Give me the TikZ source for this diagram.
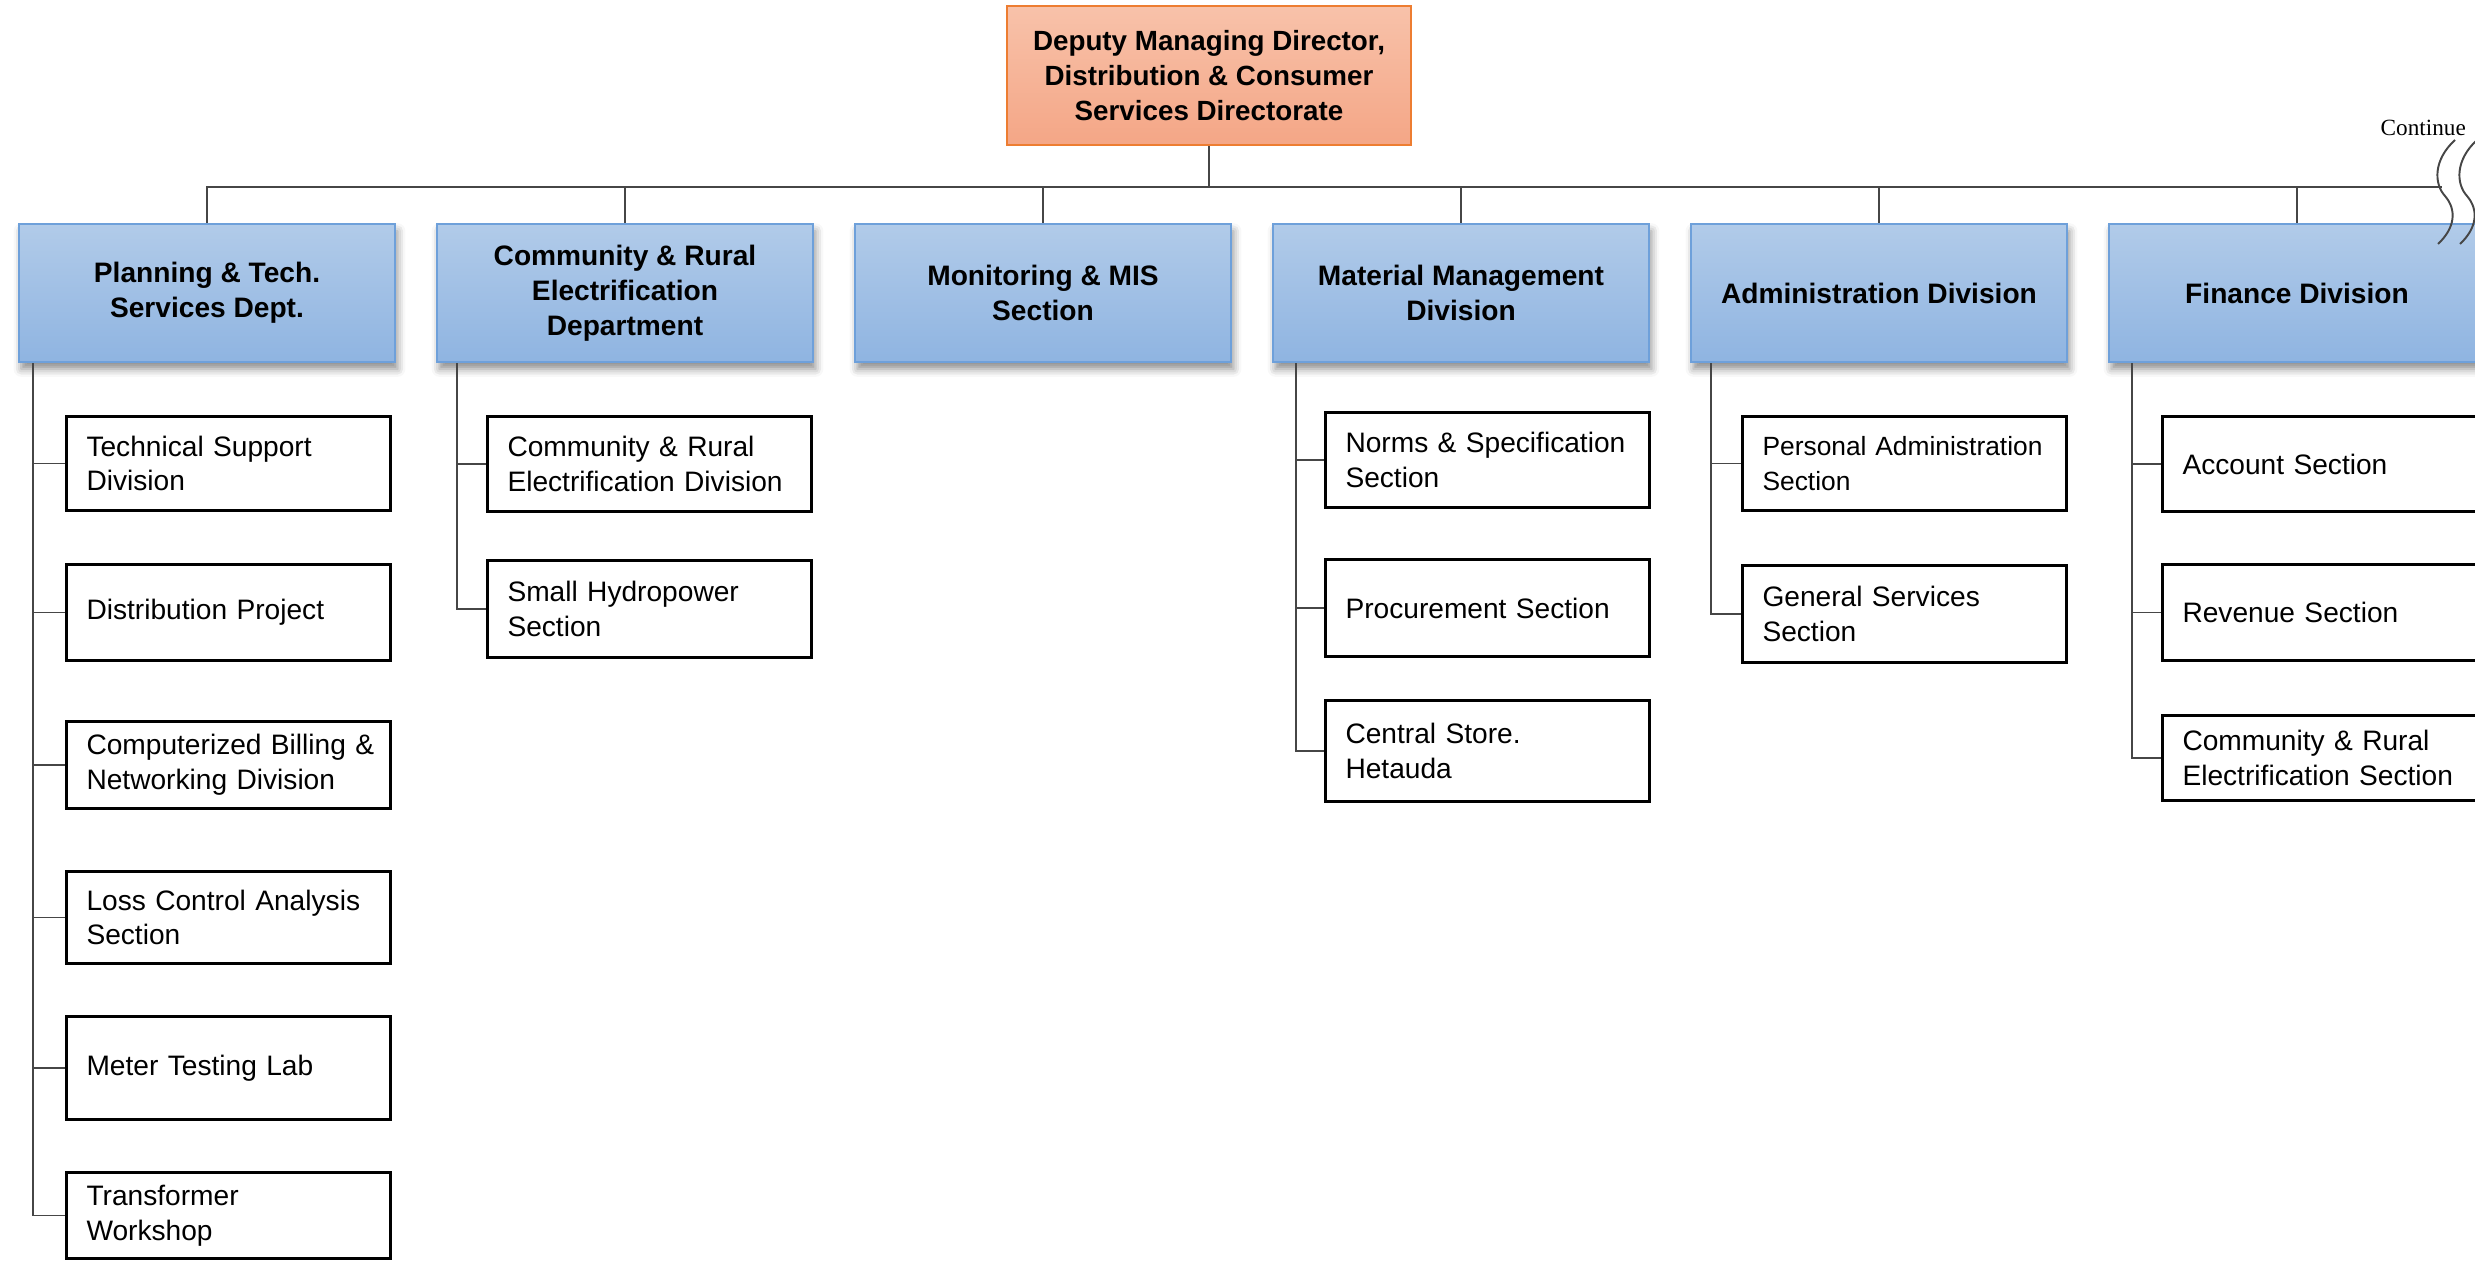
\documentclass[tikz,border=0pt]{standalone}
\usepackage{fontspec}
\setmainfont{Liberation Sans}
\newfontfamily\notefont{Liberation Serif}
\usetikzlibrary{calc,shadows.blur}

\definecolor{headtop}{RGB}{177,203,233}
\definecolor{headbot}{RGB}{143,180,225}
\definecolor{headline}{RGB}{110,160,218}
\definecolor{dirtop}{RGB}{248,194,170}
\definecolor{dirbot}{RGB}{244,166,134}
\definecolor{dirline}{RGB}{237,125,49}
\definecolor{linkgray}{RGB}{70,70,70}

\tikzset{
  dirbox/.style={draw=dirline, line width=0.7pt, top color=dirtop, bottom color=dirbot,
    minimum width=4.04cm, minimum height=1.39cm, align=center,
    font=\bfseries\fontsize{7.9}{9.9}\selectfont},
  headbox/.style={draw=headline, line width=0.6pt, top color=headtop, bottom color=headbot,
    minimum width=3.76cm, minimum height=1.38cm, align=center,
    font=\bfseries\fontsize{8}{9.9}\selectfont,
    blur shadow={shadow xshift=0.7pt, shadow yshift=-2pt, shadow blur radius=2.2pt, shadow opacity=45}},
  unitbox/.style={draw=black, line width=0.85pt, fill=white, anchor=west,
    text width=2.84cm, inner xsep=0.2cm, align=left,
    font=\fontsize{8}{9.9}\selectfont},
  link/.style={draw=linkgray, line width=0.55pt},
  breakmark/.style={draw=linkgray, line width=0.55pt},
}

\begin{document}
\begin{tikzpicture}[x=0.01cm, y=-0.01cm]
\useasboundingbox (0,0) rectangle (2475,1260);
\clip (0,0) rectangle (2475,1260);

% directorate
\node[dirbox] (top) at (1209,75.5) {Deputy Managing Director,\\Distribution \& Consumer\\Services Directorate};

% departments and divisions
\node[headbox] (h1) at (207,293) {Planning \& Tech.\\Services Dept.};
\node[headbox] (h2) at (625,293) {Community \& Rural\\Electrification\\Department};
\node[headbox] (h3) at (1043,293) {Monitoring \& MIS\\Section};
\node[headbox] (h4) at (1461,293) {Material Management\\Division};
\node[headbox] (h5) at (1879,293) {Administration Division};
\node[headbox] (h6) at (2297,293) {Finance Division};

% main bus
\coordinate (busR) at (2442,187);
\draw[link] (h1.north) |- (busR);
\draw[link] (top.south) -- (top.south |- busR);
\foreach \h in {h2,h3,h4,h5,h6} \draw[link] (\h.north) -- (\h.north |- busR);

% break marks on the bus
\draw[breakmark] (2455,140) .. controls (2433,160) and (2434,184) .. (2445,196)
  .. controls (2457,210) and (2455,228) .. (2438,244);
\draw[breakmark] (2477,140) .. controls (2455,160) and (2456,184) .. (2467,196)
  .. controls (2479,210) and (2477,228) .. (2460,244);
\node[font=\notefont\fontsize{6.6}{7}\selectfont, anchor=base west, inner sep=0pt] (cont) at (2380,135) {Continue};

% Planning & Tech. Services Dept.
\node[unitbox, minimum height=0.93cm] (p1) at (65,463.5) {Technical Support\\Division};
\node[unitbox, minimum height=0.95cm] (p2) at (65,612.5) {Distribution Project};
\node[unitbox, minimum height=0.86cm] (p3) at (65,765) {\mbox{Computerized Billing \&}\\Networking Division};
\node[unitbox, minimum height=0.91cm] (p4) at (65,917.5) {Loss Control Analysis\\Section};
\node[unitbox, minimum height=1.02cm] (p5) at (65,1068) {Meter Testing Lab};
\node[unitbox, minimum height=0.85cm] (p6) at (65,1215.5) {Transformer\\Workshop};
\coordinate (pv) at ($(h1.south west)+(15,0)$);
\draw[link] (pv) |- (p6.west);
\foreach \c in {p1,p2,p3,p4,p5} \draw[link] (\c.west) -- (\c.west -| pv);

% Community & Rural Electrification Department
\node[unitbox, minimum height=0.94cm] (c1) at (486,464) {Community \& Rural\\\mbox{Electrification Division}};
\node[unitbox, minimum height=0.96cm] (c2) at (486,609) {Small Hydropower\\Section};
\coordinate (cv) at ($(h2.south west)+(21,0)$);
\draw[link] (cv) |- (c2.west);
\draw[link] (c1.west) -- (c1.west -| cv);

% Material Management Division
\node[unitbox, minimum height=0.94cm] (m1) at (1324,460) {\mbox{Norms \& Specification}\\Section};
\node[unitbox, minimum height=0.96cm] (m2) at (1324,608) {Procurement Section};
\node[unitbox, minimum height=1.00cm] (m3) at (1324,751) {Central Store.\\Hetauda};
\coordinate (mv) at ($(h4.south west)+(24,0)$);
\draw[link] (mv) |- (m3.west);
\foreach \c in {m1,m2} \draw[link] (\c.west) -- (\c.west -| mv);

% Administration Division
\node[unitbox, minimum height=0.93cm, font=\fontsize{7.5}{9.9}\selectfont] (a1) at (1741,463.5) {\mbox{Personal Administration}\\Section};
\node[unitbox, minimum height=0.96cm] (a2) at (1741,614) {General Services\\Section};
\coordinate (av) at ($(h5.south west)+(21,0)$);
\draw[link] (av) |- (a2.west);
\draw[link] (a1.west) -- (a1.west -| av);

% Finance Division
\node[unitbox, minimum height=0.94cm] (f1) at (2161,464) {Account Section};
\node[unitbox, minimum height=0.95cm] (f2) at (2161,612.5) {Revenue Section};
\node[unitbox, minimum height=0.84cm] (f3) at (2161,758) {Community \& Rural\\\mbox{Electrification Section}};
\coordinate (fv) at ($(h6.south west)+(24,0)$);
\draw[link] (fv) |- (f3.west);
\foreach \c in {f1,f2} \draw[link] (\c.west) -- (\c.west -| fv);
\end{tikzpicture}
\end{document}
